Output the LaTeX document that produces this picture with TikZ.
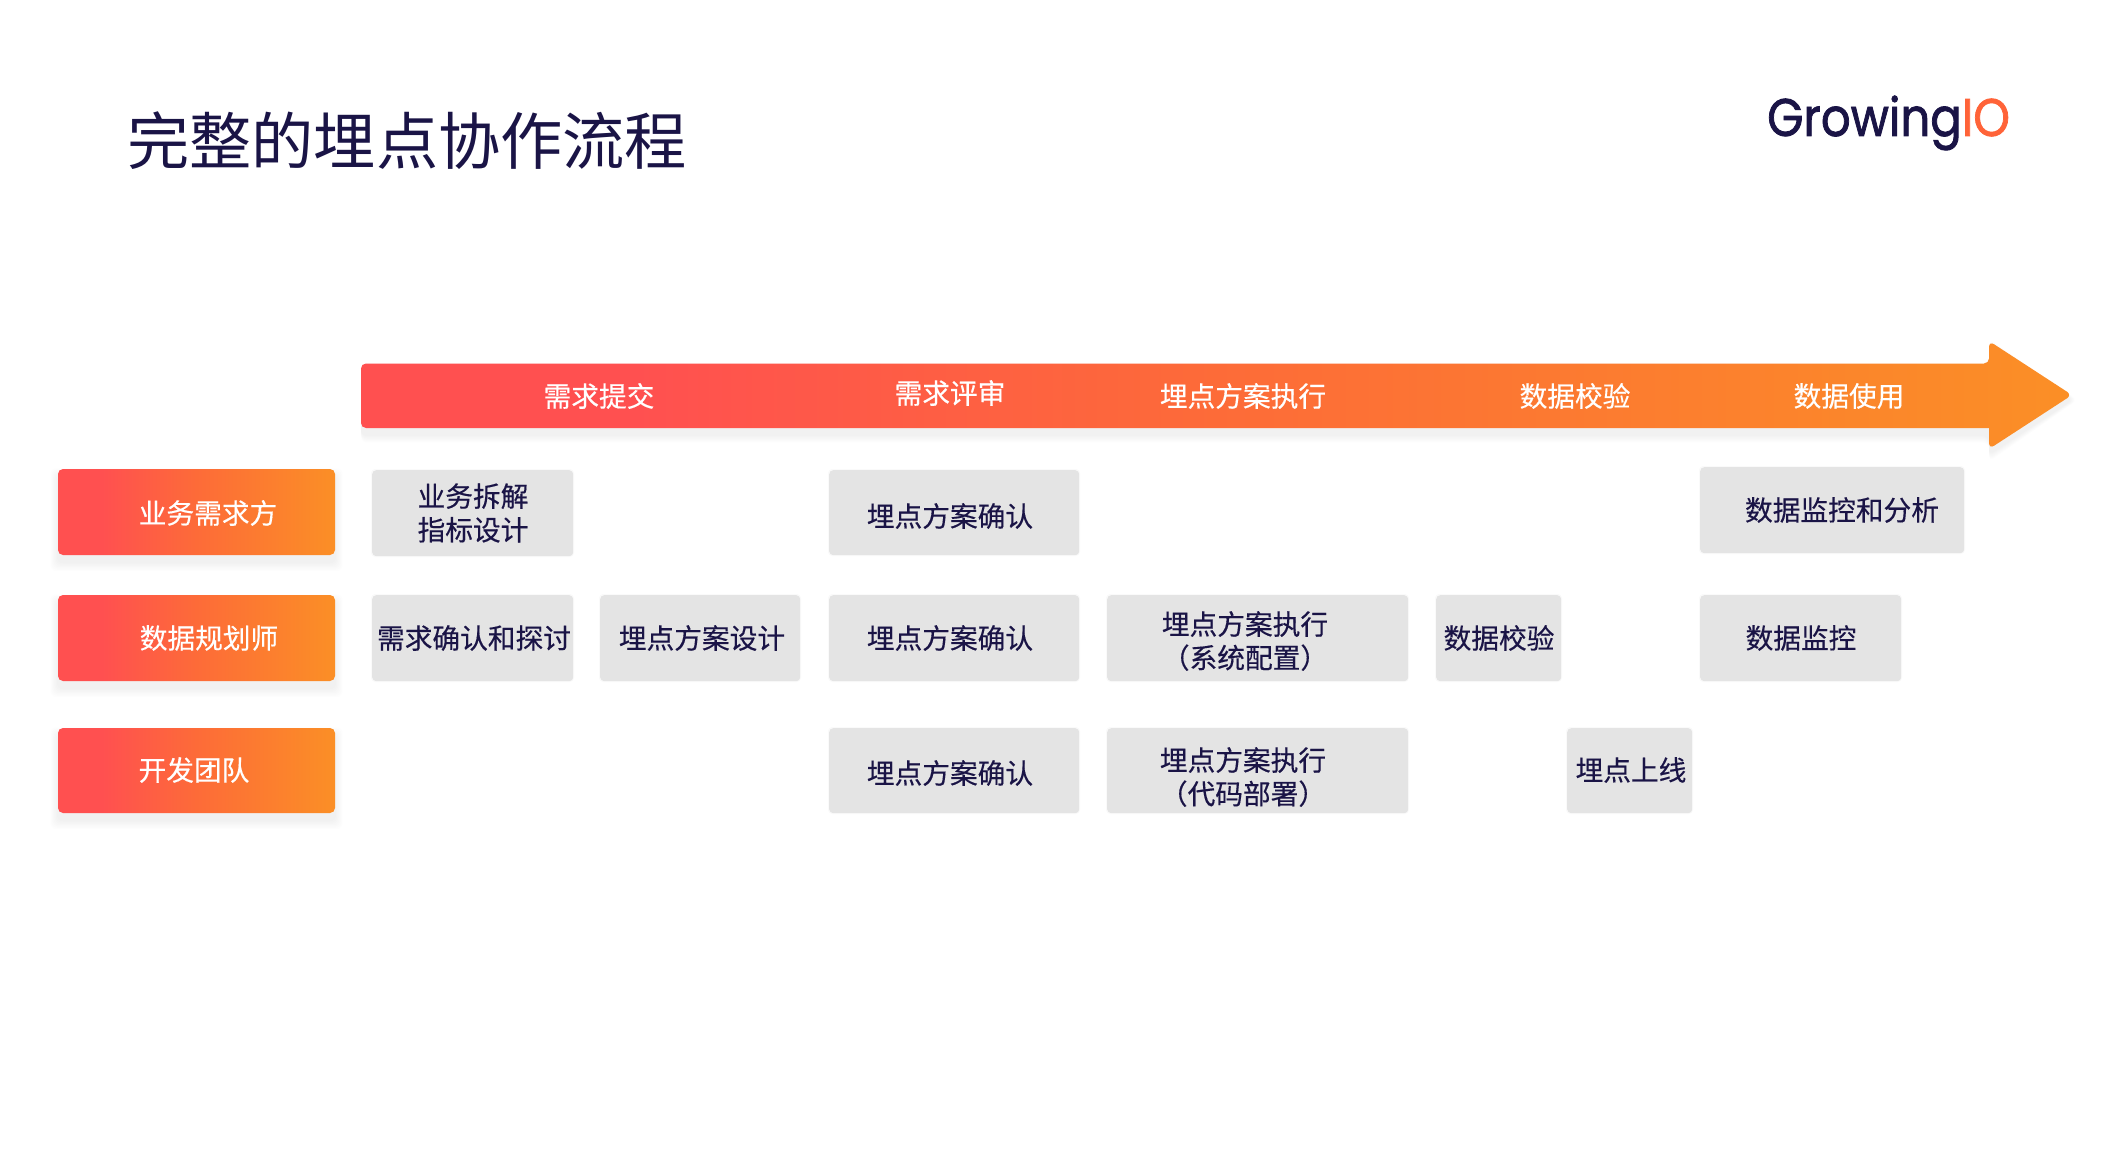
\documentclass[tikz,border=0pt]{standalone}
\usepackage{fontspec}
\setmainfont{Noto Sans CJK SC}
\newfontfamily\boxfont[FakeBold=0.35]{Noto Sans CJK SC}
\newfontfamily\logofont[FakeBold=1.6]{Poppins}
\definecolor{inkdark}{HTML}{1A1446}
\definecolor{cellgray}{HTML}{E4E4E4}
\definecolor{logoorange}{HTML}{FF6338}
\pgfdeclarehorizontalshading{brandgrad}{100bp}{
  rgb(0bp)=(1,0.314,0.314);
  rgb(25bp)=(1,0.314,0.314);
  rgb(33bp)=(1,0.314,0.314);
  rgb(50bp)=(0.992,0.42,0.22);
  rgb(75bp)=(0.984,0.561,0.149);
  rgb(100bp)=(0.984,0.561,0.149)}
\tikzset{
  x=1pt,y=-1pt,
  cellbox/.style={fill=cellgray,draw=none,rounded corners=4pt,inner sep=0pt},
  rolebox/.style={shading=brandgrad,draw=none,rounded corners=5pt},
  darktext/.style={text=inkdark,font=\boxfont\fontsize{27.7}{33.6}\selectfont,align=center,inner sep=0pt},
  lighttext/.style={text=white,font=\boxfont\fontsize{27.7}{33.6}\selectfont,align=center,inner sep=0pt},
}
\newcommand{\softshadow}[4]{%
  \foreach \s in {1,...,7}{%
    \fill[black,opacity=0.008,rounded corners=6pt]
      ({#1-\s*1.1},{#2+7-\s*1.1}) rectangle ({#3+\s*1.1},{#4+7+\s*1.3});
  }%
}
\newcommand{\cellat}[5]{%
  \path[fill=black,opacity=0.02,rounded corners=4pt] ({#2-1},{#3-1}) rectangle ({#4+1},{#5+1});
  \node[cellbox,minimum width={(#4)-(#2)},minimum height={(#5)-(#3)},anchor=north west] (#1) at (#2,#3) {};
}
\newcommand{\roleat}[5]{%
  \softshadow{#2}{#3}{#4}{#5}
  \shade[rolebox] (#2,#3) rectangle (#4,#5);
  \coordinate (#1) at ({(#2+#4)/2},{(#3+#5)/2});
}
\begin{document}
\begin{tikzpicture}
\useasboundingbox (0,0) rectangle (2112,1174);
\fill[white] (0,0) rectangle (2112,1174);

% title and logo
\node[text=inkdark,font=\fontsize{62.2}{70}\selectfont,anchor=west,inner sep=0pt] (title) at (127,141) {完整的埋点协作流程};
\node[font=\logofont\fontsize{53}{60}\selectfont,anchor=base west,inner sep=0pt,xscale=0.88] (logo) at (1767,136) {\textcolor{inkdark}{Growing}\textcolor{logoorange}{IO}};

% timeline arrow
\foreach \s in {1,...,7}{
  \fill[black,opacity=0.008,rounded corners=6pt]
    (361,{363+7-\s}) -- ({1989},{363+7-\s}) -- ({1989},{341+5-\s}) -- ({2072+\s*0.8},{395+5}) -- ({1989},{449+5+\s*1.1}) -- ({1989},{428+7+\s*1.1}) -- ({361},{428+7+\s*1.1}) -- cycle;
}
\shade[shading=brandgrad,rounded corners=5pt]
  (361,363.5) -- (1989,363.5) [rounded corners=6pt] -- (1989,341) -- (2072,395) -- (1989,449) [rounded corners=0pt] -- (1989,428) [rounded corners=5pt] -- (361,428) -- cycle;

\node[lighttext] (ph1) at (599,396) {需求提交};
\node[lighttext] (ph2) at (950,393) {需求评审};
\node[lighttext] (ph3) at (1243,396) {埋点方案执行};
\node[lighttext] (ph4) at (1575,396) {数据校验};
\node[lighttext] (ph5) at (1849,396) {数据使用};

% roles
\roleat{roleA}{58}{469}{335}{555}
\roleat{roleB}{58}{595}{335}{681}
\roleat{roleC}{58}{728}{335}{813}
\node[lighttext] (roleAt) at (208,513) {业务需求方};
\node[lighttext] (roleBt) at (209,638) {数据规划师};
\node[lighttext] (roleCt) at (194,770) {开发团队};

% cells
\cellat{c1}{372}{470}{573}{556}
\cellat{c2}{829}{470}{1079}{555}
\cellat{c3}{1700}{467}{1964}{553}
\cellat{c4}{372}{595}{573}{681}
\cellat{c5}{600}{595}{800}{681}
\cellat{c6}{829}{595}{1079}{681}
\cellat{c7}{1107}{595}{1408}{681}
\cellat{c8}{1436}{595}{1561}{681}
\cellat{c9}{1700}{595}{1901}{681}
\cellat{c10}{829}{728}{1079}{813}
\cellat{c11}{1107}{728}{1408}{813}
\cellat{c12}{1567}{728}{1692}{813}

\node[darktext] (t1) at (473,513) {业务拆解\\指标设计};
\node[darktext] (t2) at (950,516) {埋点方案确认};
\node[darktext] (t3) at (1842,510) {数据监控和分析};
\node[darktext] (t4) at (474,638) {需求确认和探讨};
\node[darktext] (t5) at (702,638) {埋点方案设计};
\node[darktext] (t6) at (950,638) {埋点方案确认};
\node[darktext] (t7) at (1245,641) {埋点方案执行\\（系统配置）};
\node[darktext] (t8) at (1499,638) {数据校验};
\node[darktext] (t9) at (1801,638) {数据监控};
\node[darktext] (t10) at (950,773) {埋点方案确认};
\node[darktext] (t11) at (1243,777) {埋点方案执行\\（代码部署）};
\node[darktext] (t12) at (1631,770) {埋点上线};
\end{tikzpicture}
\end{document}
